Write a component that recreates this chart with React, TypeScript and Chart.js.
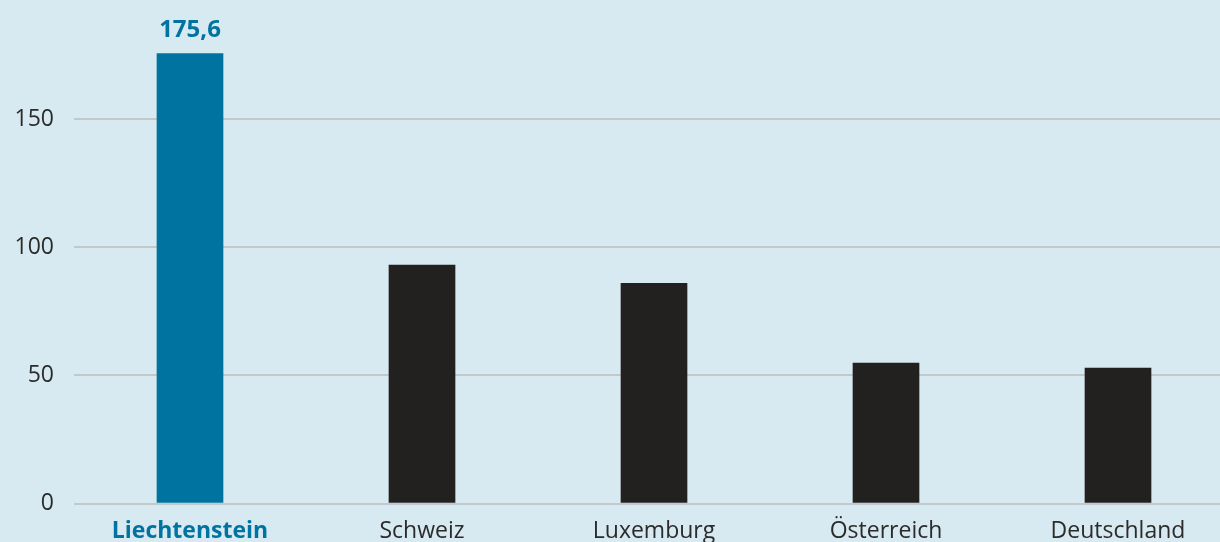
import React, { useEffect, useRef } from "react";
import { Chart, registerables } from "chart.js";

Chart.register(...registerables);

const categories = ["Liechtenstein", "Schweiz", "Luxemburg", "Österreich", "Deutschland"];
const values = [175.6, 93.1, 86.0, 54.8, 52.9];
const highlighted = [true, false, false, false, false];
const yTicks = [0, 50, 100, 150];

const BG = "#d7e9f1";
const BLUE = "#0073a0";
const DARK = "#222120";
const TEXT = "#2b2b2b";
const FONT = "'Open Sans', 'Noto Sans', sans-serif";

const valueLabelPlugin = {
  id: "valueLabel",
  afterDatasetsDraw(chart: any) {
    const { ctx } = chart;
    const meta = chart.getDatasetMeta(0);
    meta.data.forEach((bar: any, i: number) => {
      if (!highlighted[i]) return;
      ctx.save();
      ctx.font = `bold 24px ${FONT}`;
      ctx.fillStyle = BLUE;
      ctx.textAlign = "center";
      ctx.textBaseline = "alphabetic";
      ctx.fillText(values[i].toLocaleString("de-DE"), bar.x, bar.y - 17);
      ctx.restore();
    });
  },
};

export default function App() {
  const ref = useRef<HTMLCanvasElement | null>(null);

  useEffect(() => {
    document.body.style.margin = "0";
    const canvas = ref.current;
    if (!canvas) return;
    const chart = new Chart(canvas, {
      type: "bar",
      data: {
        labels: categories,
        datasets: [
          {
            data: values,
            backgroundColor: highlighted.map((h) => (h ? BLUE : DARK)),
            borderWidth: 0,
            barThickness: 66,
          },
        ],
      },
      options: {
        animation: false,
        responsive: false,
        maintainAspectRatio: false,
        layout: { padding: { top: 4, left: 0, right: 0, bottom: 0 } },
        plugins: {
          legend: { display: false },
          tooltip: { enabled: false },
        },
        scales: {
          x: {
            grid: { display: false, drawTicks: false },
            border: { display: false },
            ticks: {
              padding: 14,
              autoSkip: false,
              maxRotation: 0,
              color: (c: any) => (highlighted[c.index] ? BLUE : TEXT),
              font: (c: any) => ({
                family: FONT,
                size: 23,
                weight: highlighted[c.index] ? "bold" : "normal",
              }),
            },
            afterFit: (scale: any) => {
              scale.height = 38.5;
              scale.paddingLeft = 0;
              scale.paddingRight = 0;
            },
          },
          y: {
            min: 0,
            max: 195,
            border: { display: false },
            grid: {
              color: "#c3c8ca",
              lineWidth: 2,
              drawTicks: false,
            },
            afterBuildTicks: (scale: any) => {
              scale.ticks = yTicks.map((v) => ({ value: v }));
            },
            ticks: {
              padding: 20,
              color: TEXT,
              font: { family: FONT, size: 23, weight: "normal" },
            },
            afterFit: (scale: any) => {
              scale.width = 74;
              scale.paddingTop = 0;
              scale.paddingBottom = 0;
            },
          },
        },
      },
      plugins: [valueLabelPlugin],
    });
    return () => chart.destroy();
  }, []);

  return (
    <div
      style={{
        position: "fixed",
        left: 0,
        top: 0,
        width: 1220,
        height: 542,
        overflow: "hidden",
        background: BG,
      }}
    >
      <canvas ref={ref} width={1234} height={542} style={{ display: "block", width: 1234, height: 542 }} />
    </div>
  );
}
